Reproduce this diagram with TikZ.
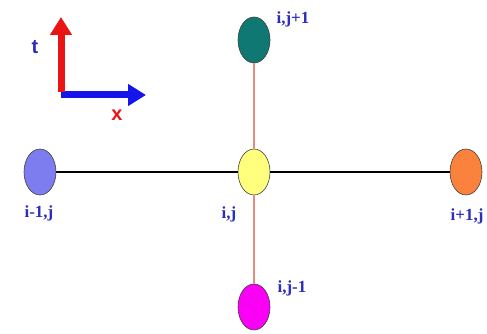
\documentclass[tikz,border=0pt]{standalone}
\usepackage{fontspec}
\setmainfont{Liberation Serif}
\setsansfont{Liberation Sans}
\usetikzlibrary{shapes.geometric, arrows.meta}
\definecolor{label-color}{RGB}{45,45,190}
\definecolor{axis-red}{RGB}{235,20,20}
\definecolor{axis-blue}{RGB}{20,20,235}
\definecolor{west-color}{RGB}{125,125,240}
\definecolor{centre-color}{RGB}{255,255,125}
\definecolor{east-color}{RGB}{250,130,60}
\definecolor{north-color}{RGB}{15,120,115}
\definecolor{south-color}{RGB}{250,0,245}
\definecolor{time-line}{RGB}{230,140,125}

\begin{document}
\begin{tikzpicture}[x=1pt, y=-1pt,
    % grid points of the stencil
    pt/.style={ellipse, draw=black!75, fill=#1, line width=0.6pt,
               minimum width=32pt, minimum height=46pt, inner sep=0pt},
    lbl/.style={font=\fontsize{17}{17}\selectfont\bfseries, text=label-color, inner sep=0pt},
    axlbl/.style={font=\fontsize{20}{20}\selectfont\sffamily\bfseries, inner sep=0pt},
    axarr/.style={-{Triangle[width=21pt,length=18pt]}, line width=7pt, #1},
    spaceline/.style={line width=1.5pt, black},
    timeline/.style={line width=1.8pt, time-line}
]
\useasboundingbox (0,0) rectangle (487,334);

% ===== axes =====
\coordinate (o) at (61,95);
\coordinate (tend) at (61,17);
\coordinate (xend) at (146,95);
\draw[axarr=axis-blue] (o) -- (xend);
\draw[axarr=axis-red] ([yshift=3pt]o) -- (tend);
\node[axlbl, text=label-color] (tl) at (35,47) {t};
\node[axlbl, text=axis-red] (xl) at (117,115) {x};

% ===== stencil =====
\node[pt=centre-color] (c) at (254,172) {};
\node[pt=west-color] (w) at (40,172) {};
\node[pt=east-color] (e) at (466,172) {};
\node[pt=north-color] (n) at (254,40) {};
\node[pt=south-color] (s) at (254,307) {};

\draw[spaceline] (w) -- (c);
\draw[spaceline] (c) -- (e);
\draw[timeline] (n) -- (c);
\draw[timeline] (c) -- (s);

% labels
\node[lbl] (nl) at (293,19) {i,j+1};
\node[lbl] (wl) at (39,213) {i-1,j};
\node[lbl] (cl) at (229,214) {i,j};
\node[lbl] (el) at (467,216) {i+1,j};
\node[lbl] (sl) at (292,288) {i,j-1};

\end{tikzpicture}
\end{document}
